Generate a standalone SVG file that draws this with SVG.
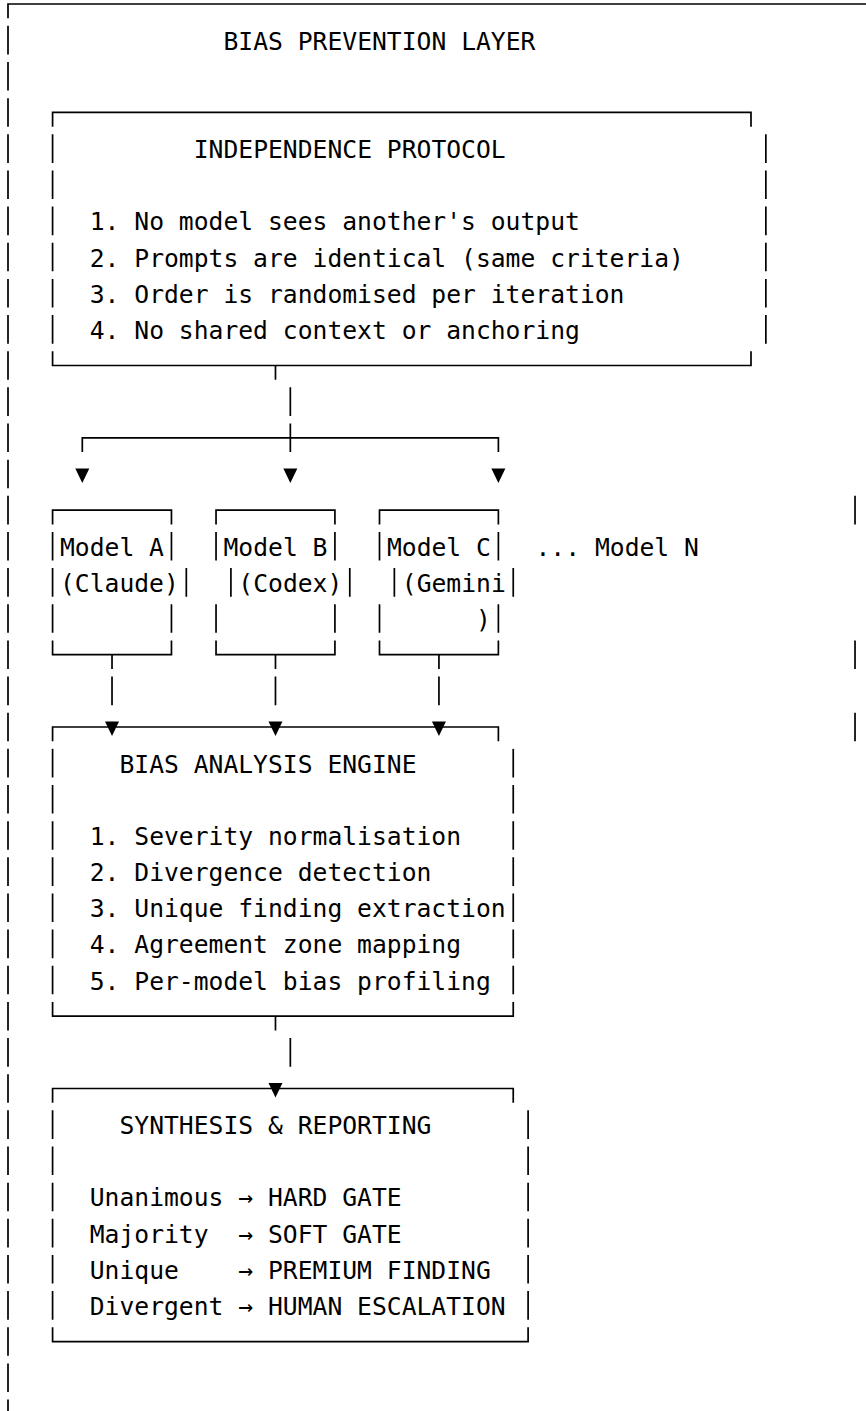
<svg xmlns="http://www.w3.org/2000/svg" width="866" height="1411" viewBox="0 0 866 1411">
<style>
text{font-family:"DejaVu Sans Mono","Liberation Mono",monospace;font-size:24.68px;fill:#000;white-space:pre}
.b{fill:none;stroke:#000;stroke-width:1.7}
.v{fill:none;stroke:#000;stroke-width:1.7;stroke-dasharray:28.6 7.55}
.tri{fill:#000}
</style>
<rect width="866" height="1411" fill="#fff"/>
<g id="outer-layer">
<path class="b" d="M8,18.3V4H866"/>
<line class="v" x1="8" y1="25.85" x2="8" y2="1420"/>
<path class="b" d="M855.02,495.8V524.4M855.02,640.4V669M855.02,712.7V741.3"/>
<text x="223.47" y="49.65" xml:space="preserve">BIAS PREVENTION LAYER</text>
</g>
<g id="independence-protocol">
<path class="b" d="M52.58,126.75V112.45H751V126.75M52.58,351.2V365.5H751V351.2"/>
<line class="v" x1="52.58" y1="134.3" x2="52.58" y2="343.65"/>
<line class="v" x1="765.86" y1="134.3" x2="765.86" y2="343.65"/>
<text x="193.75" y="158.1" xml:space="preserve">INDEPENDENCE PROTOCOL</text>
<text x="89.73" y="230.4" xml:space="preserve">1. No model sees another's output</text>
<text x="89.73" y="266.55" xml:space="preserve">2. Prompts are identical (same criteria)</text>
<text x="89.73" y="302.7" xml:space="preserve">3. Order is randomised per iteration</text>
<text x="89.73" y="338.85" xml:space="preserve">4. No shared context or anchoring</text>
</g>
<g id="model-a">
<path class="b" d="M52.58,524.4V510.1H171.46V524.4M52.58,640.4V654.7H171.46V640.4"/>
<line class="v" x1="52.58" y1="531.95" x2="52.58" y2="632.85"/>
<path class="b" d="M171.46,531.95V560.55M186.32,568.1V596.7M171.46,604.25V632.85"/>
<text x="60.01" y="555.75">Model A</text>
<text x="60.01" y="591.9">(Claude)</text>
</g>
<g id="model-b">
<path class="b" d="M216.04,524.4V510.1H334.92V524.4M216.04,640.4V654.7H334.92V640.4"/>
<path class="b" d="M216.04,531.95V560.55M334.92,531.95V560.55M230.9,568.1V596.7M349.78,568.1V596.7M216.04,604.25V632.85M334.92,604.25V632.85"/>
<text x="223.47" y="555.75">Model B</text>
<text x="238.33" y="591.9">(Codex)</text>
</g>
<g id="model-c">
<path class="b" d="M379.5,524.4V510.1H498.38V524.4M379.5,640.4V654.7H498.38V640.4"/>
<path class="b" d="M379.5,531.95V560.55M498.38,531.95V560.55M394.36,568.1V596.7M513.24,568.1V596.7M379.5,604.25V632.85M498.38,604.25V632.85"/>
<text x="386.93" y="555.75">Model C</text>
<text x="401.79" y="591.9">(Gemini</text>
<text x="476.09" y="628.05">)</text>
</g>
<g id="model-n">
<text x="535.53" y="555.75">... Model N</text>
</g>
<g id="bias-analysis-engine">
<path class="b" d="M52.58,741.3V727H498.38V741.3M52.58,1001.9V1016.2H513.24V1001.9"/>
<line class="v" x1="52.58" y1="748.85" x2="52.58" y2="994.35"/>
<line class="v" x1="513.24" y1="748.85" x2="513.24" y2="994.35"/>
<text x="119.45" y="772.65">BIAS ANALYSIS ENGINE</text>
<text x="89.73" y="844.95">1. Severity normalisation</text>
<text x="89.73" y="881.1">2. Divergence detection</text>
<text x="89.73" y="917.25">3. Unique finding extraction</text>
<text x="89.73" y="953.4">4. Agreement zone mapping</text>
<text x="89.73" y="989.55">5. Per-model bias profiling</text>
</g>
<g id="synthesis-reporting">
<path class="b" d="M52.58,1102.8V1088.5H513.24V1102.8M52.58,1327.25V1341.55H528.1V1327.25"/>
<line class="v" x1="52.58" y1="1110.35" x2="52.58" y2="1319.7"/>
<line class="v" x1="528.1" y1="1110.35" x2="528.1" y2="1319.7"/>
<text x="119.45" y="1134.15" xml:space="preserve">SYNTHESIS &amp; REPORTING</text>
<text x="89.73" y="1206.45" xml:space="preserve">Unanimous → HARD GATE</text>
<text x="89.73" y="1242.6" xml:space="preserve">Majority  → SOFT GATE</text>
<text x="89.73" y="1278.75" xml:space="preserve">Unique    → PREMIUM FINDING</text>
<text x="89.73" y="1314.9" xml:space="preserve">Divergent → HUMAN ESCALATION</text>
</g>
<g id="connectors">
<path class="b" d="M275.48,365.5V379.8M290.34,387.35V415.95M82.3,452.1V437.8H498.38V452.1M290.34,423.5V452.1"/>
<path class="tri" d="M75.3,468.45H89.3L82.3,482.95ZM283.34,468.45H297.34L290.34,482.95ZM491.38,468.45H505.38L498.38,482.95Z"/>
<path class="b" d="M112.02,654.7V669M275.48,654.7V669M438.94,654.7V669M112.02,676.55V705.15M275.48,676.55V705.15M438.94,676.55V705.15"/>
<path class="tri" d="M105.02,721.5H119.02L112.02,736ZM268.48,721.5H282.48L275.48,736ZM431.94,721.5H445.94L438.94,736Z"/>
<path class="b" d="M275.48,1016.2V1030.5M290.34,1038.05V1066.65"/>
<path class="tri" d="M268.48,1083H282.48L275.48,1097.5Z"/>
</g>
</svg>
